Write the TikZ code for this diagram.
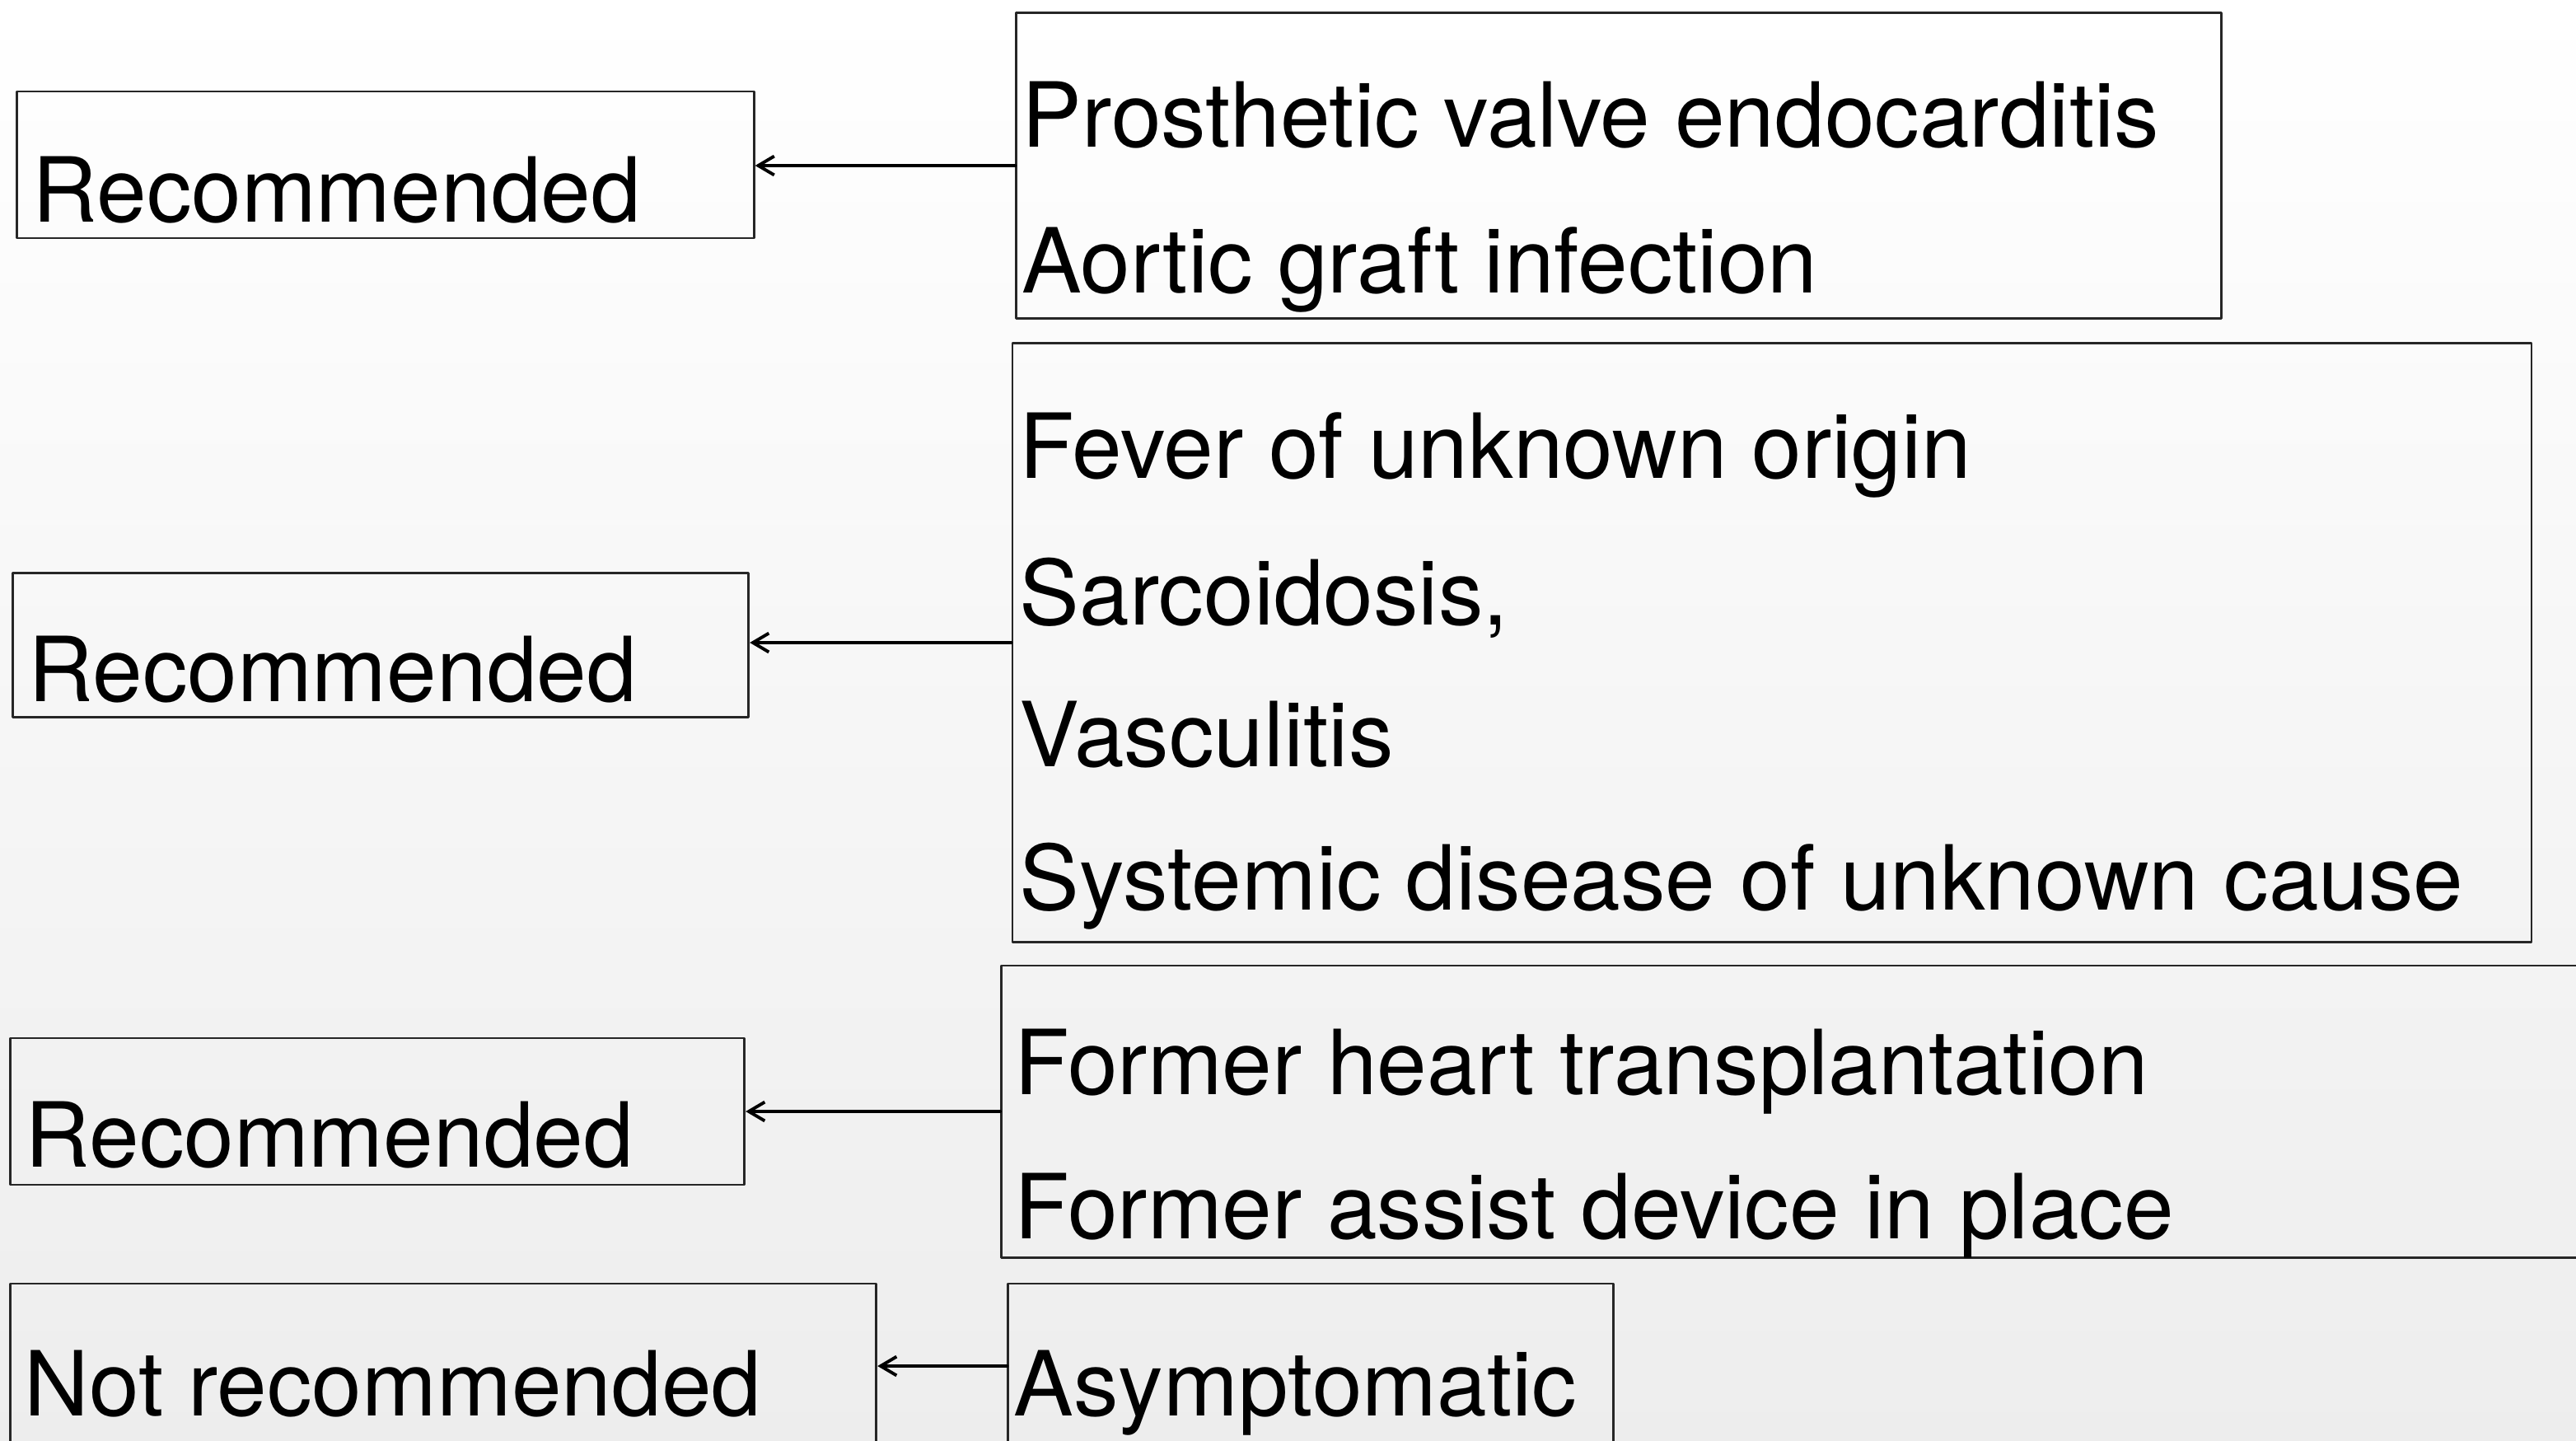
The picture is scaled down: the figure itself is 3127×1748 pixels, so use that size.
\documentclass[tikz,border=0pt]{standalone}
\usepackage{fontspec}
\setmainfont{TeX Gyre Heros}
\usepackage{tikz}
\usetikzlibrary{arrows.meta}

\begin{document}
\begin{tikzpicture}[
  x=0.01cm, y=-0.01cm,
  >={Straight Barb[length=5.5pt,width=6.5pt]},
  line cap=round,
  line join=round,
  box/.style={draw=black!85, line width=0.8pt, rectangle, inner sep=0pt},
  txt/.style={anchor=base west, inner sep=0pt, font=\fontsize{31pt}{37pt}\selectfont},
  link/.style={->, line width=1.1pt}
]
  % Background
  \useasboundingbox (0,0) rectangle (3127,1748);
  \shade[top color=white, middle color=black!2, bottom color=black!7]
    (0,0) rectangle (3127,1748);

  % Outcome boxes
  \node[box, minimum width=8.94cm,  minimum height=1.78cm] (rec1)   at ( 468,200) {};
  \node[box, minimum width=8.93cm,  minimum height=1.75cm] (rec2)   at ( 462,783) {};
  \node[box, minimum width=8.91cm,  minimum height=1.78cm] (rec3)   at ( 458,1349) {};
  \node[box, minimum width=10.51cm, minimum height=2.00cm] (notrec) at ( 538,1658) {};

  % Indication boxes
  \node[box, minimum width=14.62cm, minimum height=3.71cm] (ind1) at (1965,201) {};
  \node[box, minimum width=18.43cm, minimum height=7.27cm] (ind2) at (2151,780) {};
  \node[box, minimum width=19.24cm, minimum height=3.54cm] (ind3) at (2178,1349) {};
  \node[box, minimum width=7.34cm,  minimum height=2.00cm] (ind4) at (1591,1658) {};

  % Texts
  \node[txt] (rec1txt)   at (39,269)  {Recommended};
  \node[txt] (rec2txt)   at (34,851)  {Recommended};
  \node[txt] (rec3txt)   at (30,1416) {Recommended};
  \node[txt] (notrectxt) at (29,1718) {Not recommended};

  \node[txt] (ind1a) at (1240,178)  {Prosthetic valve endocarditis};
  \node[txt] (ind1b) at (1240,355)  {Aortic graft infection};
  \node[txt] (ind2a) at (1237,580)  {Fever of unknown origin};
  \node[txt] (ind2b) at (1237,758)  {Sarcoidosis,};
  \node[txt] (ind2c) at (1237,930)  {Vasculitis};
  \node[txt] (ind2d) at (1237,1104) {Systemic disease of unknown cause};
  \node[txt] (ind3a) at (1231,1328) {Former heart transplantation};
  \node[txt] (ind3b) at (1231,1503) {Former assist device in place};
  \node[txt] (ind4a) at (1230,1718) {Asymptomatic};

  % Arrows
  \draw[link] (ind1.west) -- (ind1.west -| rec1.east);
  \draw[link] (ind2.west) -- (ind2.west -| rec2.east);
  \draw[link] (ind3.west) -- (ind3.west -| rec3.east);
  \draw[link] (ind4.west) -- (ind4.west -| notrec.east);
\end{tikzpicture}
\end{document}
